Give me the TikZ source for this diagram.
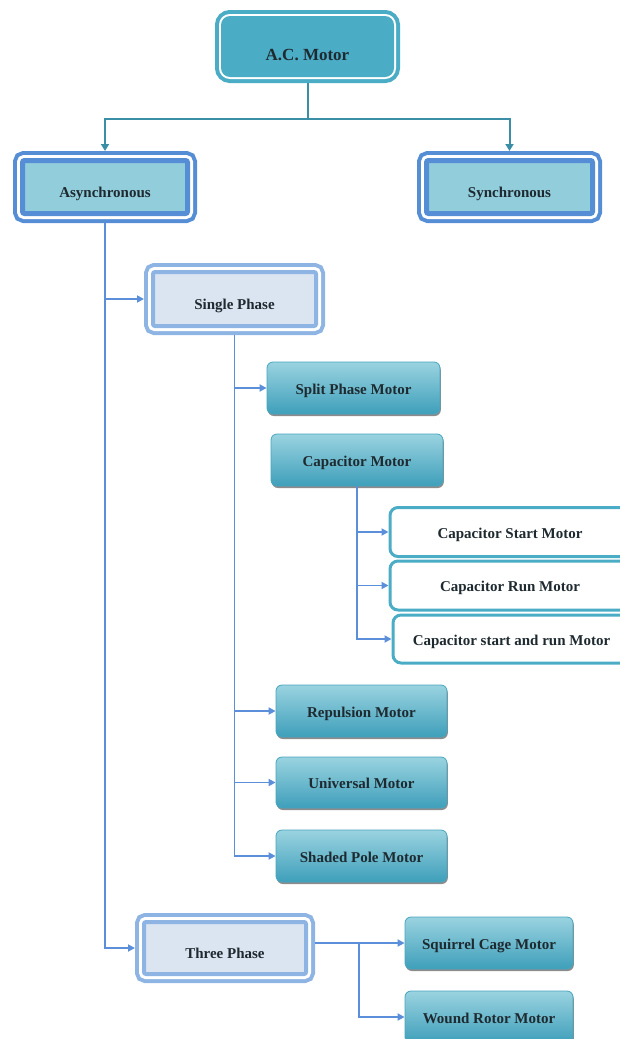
\documentclass[tikz,border=0pt]{standalone}
\usepackage{fontspec}
\setmainfont{Liberation Serif}
\usetikzlibrary{arrows.meta,shadows}

\definecolor{aqua}{HTML}{4BACC6}
\definecolor{aqualight}{HTML}{92CDDC}
\definecolor{tealwire}{HTML}{3A8FA6}
\definecolor{frameblue}{HTML}{558ED5}
\definecolor{palefr}{HTML}{8EB4E3}
\definecolor{palefill}{HTML}{DBE5F1}
\definecolor{linkblue}{HTML}{5B8FD9}
\definecolor{ink}{HTML}{1E2A30}
\definecolor{grtop}{HTML}{9AD3E0}
\definecolor{grbot}{HTML}{3E9FBA}
\definecolor{grline}{HTML}{46A5BF}

\begin{document}
\begin{tikzpicture}[x=1pt,y=1pt,
  base/.style={font=\fontsize{15}{18}\selectfont\bfseries, text=ink, inner sep=0pt, align=center},
  down/.style={text depth=0pt, text height=#1},
  rootbox/.style={base, font=\fontsize{17}{20}\selectfont\bfseries, fill=aqua, rounded corners=9pt,
     preaction={draw=aqua, line width=12pt}, preaction={draw=white, line width=4pt},
     outer sep=6pt},
  kindbox/.style={base, fill=aqualight, draw=frameblue, line width=5pt, rounded corners=2pt,
     preaction={draw=frameblue, line width=19pt}, preaction={draw=white, line width=11pt},
     outer sep=9.5pt, down=20pt},
  phasebox/.style={base, fill=palefill, draw=palefr, line width=4pt, rounded corners=2pt,
     preaction={draw=palefr, line width=18pt}, preaction={draw=white, line width=10pt},
     outer sep=9pt, down=20pt},
  motorbox/.style={base, top color=grtop, bottom color=grbot, draw=grline, line width=0.8pt,
     rounded corners=6pt, down=12pt,
     drop shadow={shadow xshift=0.8pt, shadow yshift=-2pt, fill=black, opacity=0.45}},
  capbox/.style={base, fill=white, draw=aqua, line width=3pt, rounded corners=8pt, down=12pt,
     minimum width=240pt, minimum height=49pt},
  tealarr/.style={draw=tealwire, line width=2pt, -{Triangle[length=7pt,width=8pt]}},
  tealline/.style={draw=tealwire, line width=2pt},
  bluearr/.style={draw=linkblue, line width=1.7pt, -{Triangle[length=7pt,width=7pt]}}
]
\useasboundingbox (0,0) rectangle (619,-1039);

% top levels
\node[rootbox, minimum width=173pt, minimum height=61pt, down=28pt] (acm) at (307.5,-46.5) {A.C. Motor};
\node[kindbox, minimum width=165pt, minimum height=53pt] (async) at (105,-187) {Asynchronous};
\node[kindbox, minimum width=166pt, minimum height=53pt] (sync) at (509.5,-187) {Synchronous};

% phases
\node[phasebox, minimum width=163pt, minimum height=54pt] (single) at (234.5,-299) {Single Phase};
\node[phasebox, minimum width=162pt, minimum height=52pt] (three) at (225,-948) {Three Phase};

% single phase motors
\node[motorbox, minimum width=173pt, minimum height=52pt] (split) at (353.5,-388) {Split Phase Motor};
\node[motorbox, minimum width=172pt, minimum height=52pt] (capm) at (357,-460) {Capacitor Motor};
\node[capbox] (cstart) at (510,-532) {Capacitor Start Motor};
\node[capbox] (crun) at (510,-585.5) {Capacitor Run Motor};
\node[capbox, minimum width=237pt, minimum height=48pt] (csr) at (511.5,-639) {Capacitor start and run Motor};
\node[motorbox, minimum width=171pt, minimum height=52pt] (rep) at (361.5,-711) {Repulsion Motor};
\node[motorbox, minimum width=171pt, minimum height=51pt] (univ) at (361.5,-782.5) {Universal Motor};
\node[motorbox, minimum width=171pt, minimum height=52pt] (shaded) at (361.5,-856) {Shaded Pole Motor};

% three phase motors
\node[motorbox, minimum width=168pt, minimum height=52pt] (sq) at (489,-943) {Squirrel Cage Motor};
\node[motorbox, minimum width=168pt, minimum height=52pt] (wound) at (489,-1017) {Wound Rotor Motor};

% connectors
\path (acm.south) ++(0,-36) coordinate (tj);
\draw[tealline] (acm.south) -- (tj);
\draw[tealarr] (tj) -| (async.north);
\draw[tealarr] (tj) -| (sync.north);

\draw[bluearr] (async.south) |- (single.west);
\draw[bluearr] (async.south) |- (three.west);

\draw[bluearr] (single.south) |- (split.west);
\draw[bluearr] (single.south) |- (rep.west);
\draw[bluearr] (single.south) |- (univ.west);
\draw[bluearr] (single.south) |- (shaded.west);

\draw[bluearr] (capm.south) |- (cstart.west);
\draw[bluearr] (capm.south) |- (crun.west);
\draw[bluearr] (capm.south) |- (csr.west);

\draw[bluearr] (three.east |- sq.west) -- (sq.west);
\draw[bluearr] (three.east |- sq.west) ++(44,0) |- (wound.west);
\end{tikzpicture}
\end{document}
